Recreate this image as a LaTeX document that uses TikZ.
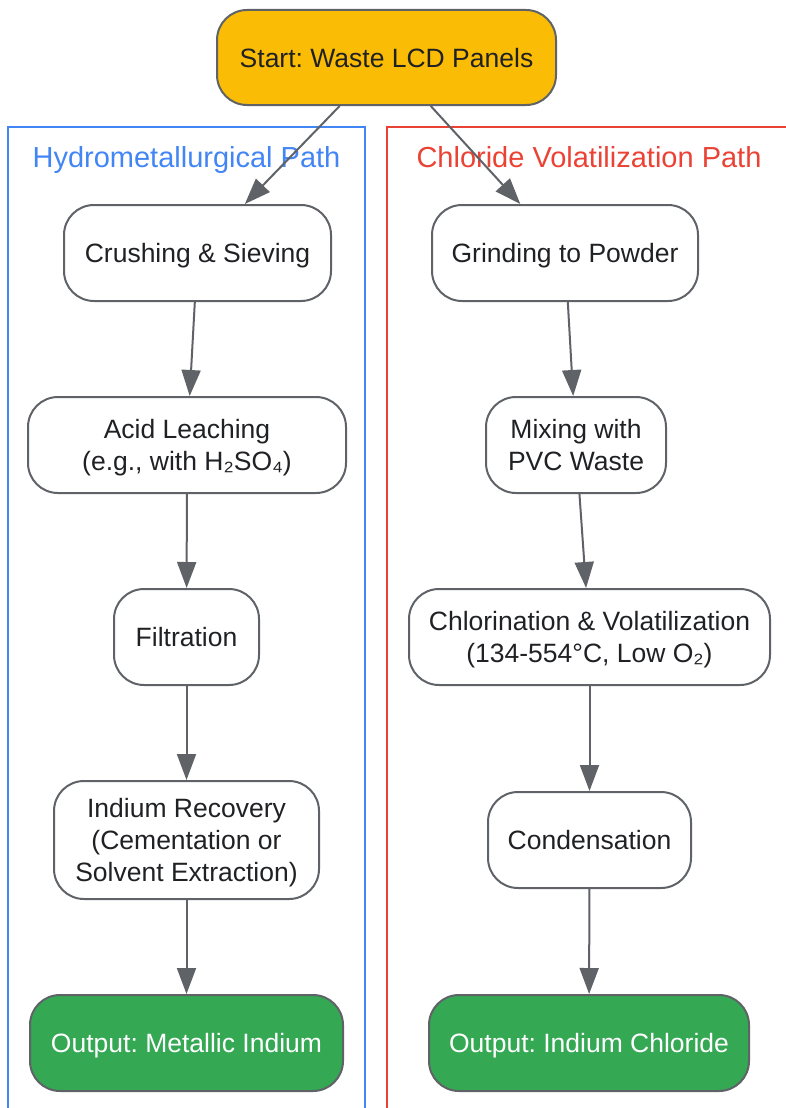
\documentclass[tikz,border=0pt]{standalone}
\usepackage{fontspec}
\setmainfont{Liberation Sans}
\usepackage{xcolor}
\usepackage{tikz}
\usetikzlibrary{arrows.meta,positioning}
\definecolor{linegray}{HTML}{5F6368}
\definecolor{txtdark}{HTML}{202124}
\definecolor{startamber}{HTML}{FBBC05}
\definecolor{outgreen}{HTML}{34A853}
\definecolor{hydroblue}{HTML}{4285F4}
\definecolor{chlorred}{HTML}{EA4335}
\frenchspacing

\begin{document}
\begin{tikzpicture}[x=1pt,y=-1pt,
	box/.style={draw=linegray,line width=2pt,rounded corners=30pt,fill=white,text=txtdark,
		font=\fontsize{26.5}{32}\selectfont,align=center,minimum height=96pt,inner sep=0pt,
		toprule=25pt,execute at end node={\rule[-5.6pt]{0pt}{0pt}}},
	toprule/.style={execute at begin node={\rule{0pt}{#1}}},
	twolines/.style={toprule=57pt},
	threelines/.style={toprule=89pt},
	outbox/.style={box,fill=outgreen,text=white},
	flow/.style={-{Triangle[length=26pt,width=19pt]},line width=2pt,draw=linegray},
	pathtitle/.style={font=\fontsize{29}{34}\selectfont,text height=26.8pt,text depth=6pt}]
		\useasboundingbox (0,0) rectangle (786,1108);
		\draw[hydroblue,line width=2pt] (8,1130) -- (8,127) -- (365,127) -- (365,1130);
		\draw[chlorred,line width=2pt] (387,1130) -- (387,127) -- (800,127);
		\node[pathtitle,text=hydroblue] (hydrotitle) at (186.5,157) {Hydrometallurgical Path};
		\node[pathtitle,text=chlorred] (chlortitle) at (589,157) {Chloride Volatilization Path};
		\node[box,fill=startamber,minimum width=339pt,minimum height=95pt] (start) at (386.5,57.5) {Start: Waste LCD Panels};
			\node[box,minimum width=267pt] (crush) at (197.5,253) {Crushing \& Sieving};
			\node[box,twolines,minimum width=318pt] (leach) at (187,445) {Acid Leaching\\(e.g., with H₂SO₄)};
			\node[box,minimum width=145pt] (filt) at (186.5,637) {Filtration};
			\node[box,threelines,minimum width=265pt,minimum height=118pt] (recov) at (186.5,840) {Indium Recovery\\(Cementation or\\Solvent Extraction)};
			\node[outbox,minimum width=313pt] (outmet) at (186.5,1043) {Output: Metallic Indium};
				\node[box,minimum width=266pt] (grind) at (565,253) {Grinding to Powder};
				\node[box,twolines,minimum width=180pt] (mix) at (576,445) {Mixing with\\PVC Waste};
				\node[box,twolines,minimum width=361pt] (chlor) at (589.5,637) {Chlorination \& Volatilization\\(134-554°C, Low O₂)};
				\node[box,minimum width=203pt] (cond) at (589.5,840) {Condensation};
				\node[outbox,minimum width=320pt] (outcl) at (589,1043) {Output: Indium Chloride};
		\draw[flow] (start) -- (crush);
		\draw[flow] (start) -- (grind);
		\draw[flow] (crush) -- (leach);
		\draw[flow] (leach) -- (filt);
		\draw[flow] (filt) -- (recov);
		\draw[flow] (recov) -- (outmet);
		\draw[flow] (grind) -- (mix);
		\draw[flow] (mix) -- (chlor);
		\draw[flow] (chlor) -- (cond);
		\draw[flow] (cond) -- (outcl);
	\end{tikzpicture}
\end{document}
